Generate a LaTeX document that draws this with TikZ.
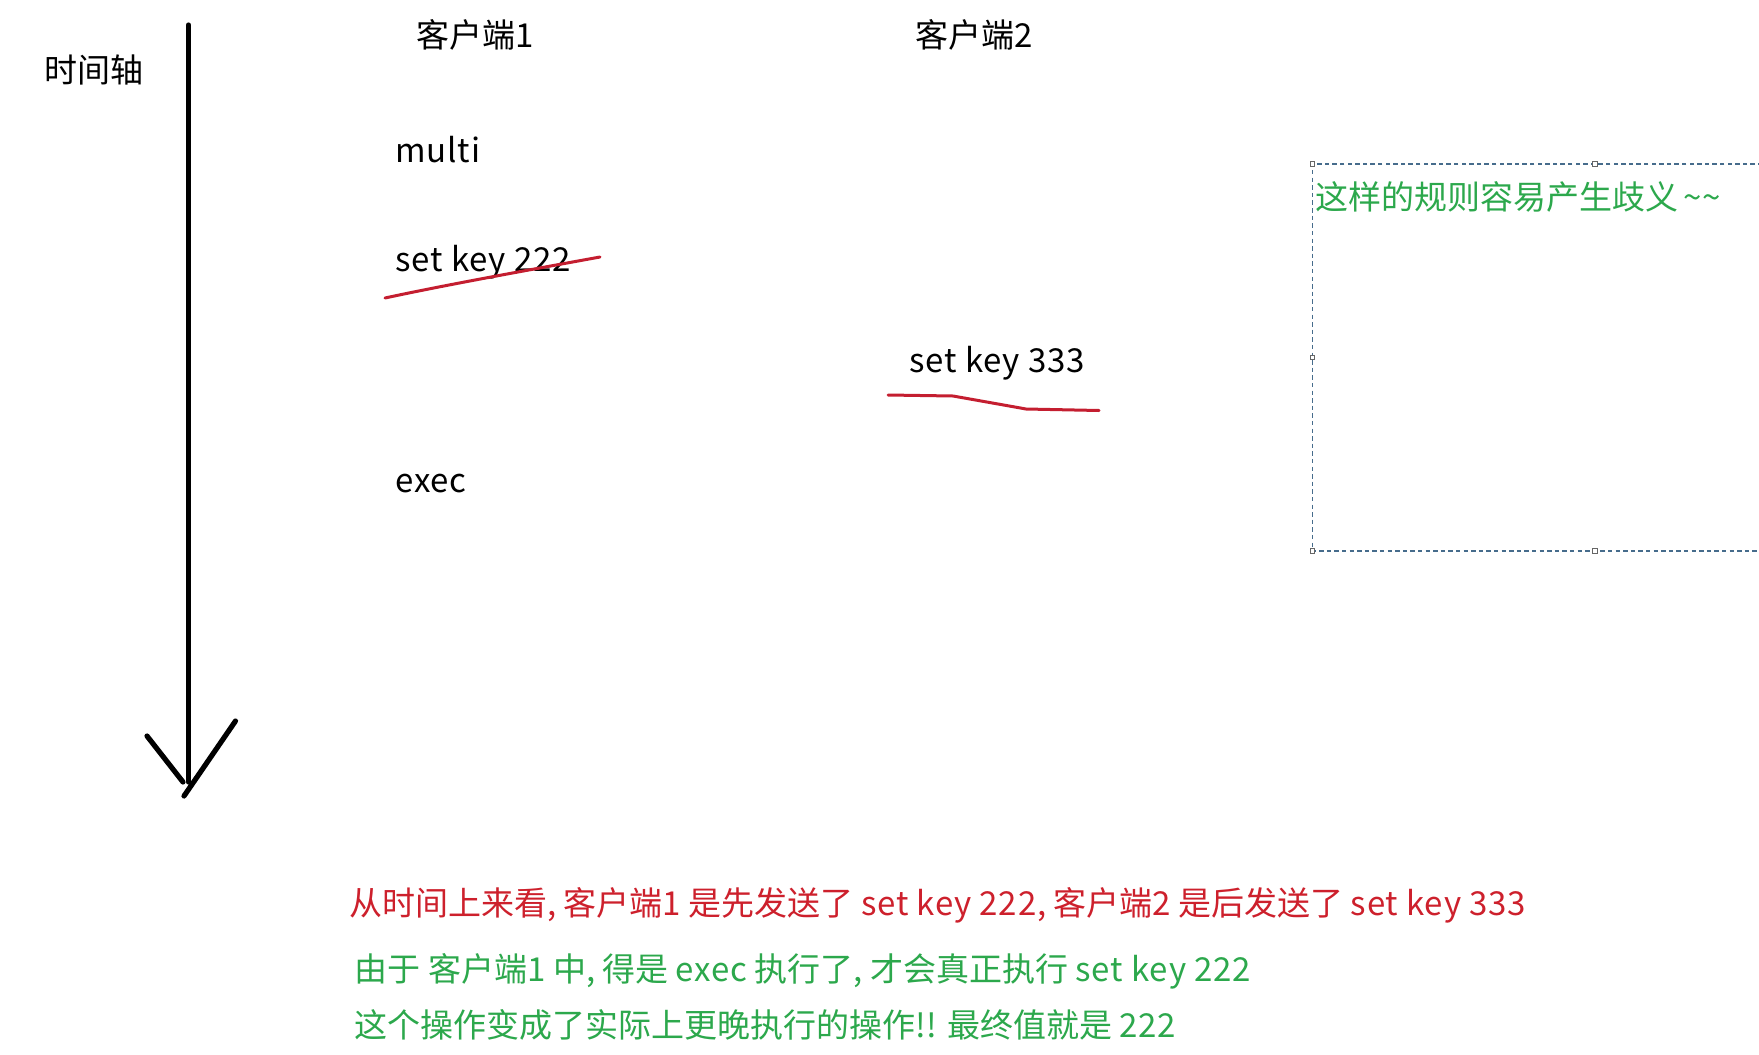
\documentclass[tikz,border=0pt]{standalone}
\usepackage{fontspec}
\setmainfont{Noto Sans CJK SC}
\usetikzlibrary{positioning}
\definecolor{inkRed}{RGB}{205,32,44}
\definecolor{penRed}{RGB}{196,30,48}
\definecolor{noteGreen}{RGB}{44,168,76}
\definecolor{frameBlue}{RGB}{70,108,140}
\newcommand\lat[1]{{\addfontfeature{LetterSpace=2.5}#1}}

\begin{document}
\begin{tikzpicture}[
  x=0.5pt,y=-0.5pt,
  font=\fontsize{16.5}{20}\selectfont,
  txt/.style={inner sep=0pt,anchor=west},
  cmd/.style={txt,font=\fontsize{16.5}{20}\selectfont\addfontfeature{LetterSpace=2.5}},
  head/.style={inner sep=0pt},
  axis/.style={line width=2.6pt,line cap=round},
  pen/.style={penRed,line width=1.5pt,line cap=round,line join=round},
  frame/.style={frameBlue,line width=0.6pt,dash pattern=on 2.2pt off 1.6pt},
  handle/.style={draw=gray!80!black,fill=white,line width=0.4pt,minimum size=2.2pt,inner sep=0pt},
]
\useasboundingbox (0,0) rectangle (1759,1054);
\clip (0,0) rectangle (1759,1054);

% time axis
\node[head] (axislbl) at (94,70) {时间轴};
\coordinate (top) at (188.5,25);
\coordinate (bot) at (188.5,782);
\draw[axis] (top) -- (bot);
\draw[axis] (147,736) -- (183,782);
\draw[axis] (235.5,721) -- (184,796);

% client columns
\node[head] (c1) at (475.5,35) {客户端1};
\node[head] (c2) at (974,35) {客户端2};

\node[cmd] (multi) at (395,150) {multi};
\node[cmd] (set1) at (395,262) {set key 222};
\node[cmd] (set2) at (909,363) {set key 333};
\node[cmd] (exec) at (395,484) {exec};

% hand-drawn marks
\draw[pen] (385,298) .. controls (450,284) and (540,268) .. (600,257);
\draw[pen] (888,395) -- (953,396) -- (998,404) -- (1026,409) -- (1099,410.5);

% note frame
\draw[frame] (1770,164) -- (1312.5,164) -- (1312.5,551) -- (1770,551);
\foreach \p in {(1312.5,164),(1595,164),(1312.5,357.5),(1312.5,551),(1595,551)}
  \node[handle] at \p {};
\node[txt,noteGreen] (note) at (1315,197) {这样的规则容易产生歧义\,\textasciitilde\textasciitilde};

% conclusions
\node[txt,inkRed] (why) at (349,905) {从时间上来看, 客户端1 是先发送了 \lat{set key 222,} 客户端2 是后发送了 \lat{set key 333}};
\node[txt,noteGreen] (res1) at (354.5,971.5) {由于 客户端1 中, 得是 \lat{exec} 执行了, 才会真正执行 \lat{set key 222}};
\node[txt,noteGreen] (res2) at (354.5,1025) {这个操作变成了实际上更晚执行的操作!! 最终值就是 \lat{222}};
\end{tikzpicture}
\end{document}
